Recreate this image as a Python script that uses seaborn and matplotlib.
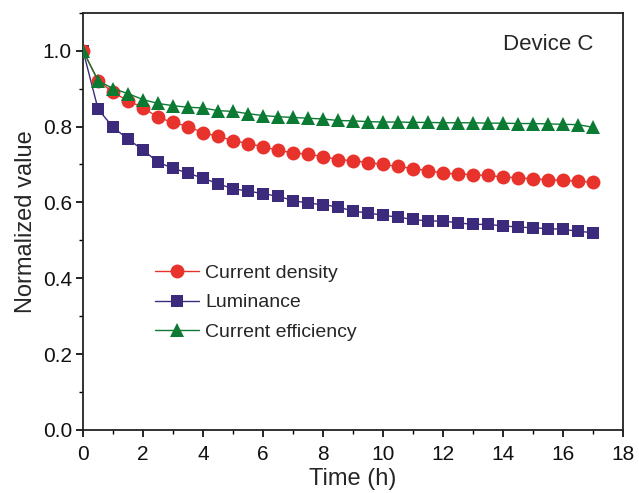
import matplotlib
matplotlib.use("Agg")
import matplotlib.pyplot as plt
import seaborn as sns
import numpy as np
import pandas as pd
from matplotlib.ticker import MultipleLocator

time_h = [0, 0.5, 1, 1.5, 2, 2.5, 3, 3.5, 4, 4.5, 5, 5.5, 6, 6.5, 7, 7.5, 8, 8.5,
          9, 9.5, 10, 10.5, 11, 11.5, 12, 12.5, 13, 13.5, 14, 14.5, 15, 15.5, 16, 16.5, 17]
current_density = [1.0, 0.921, 0.89, 0.868, 0.85, 0.824, 0.811, 0.8, 0.784, 0.774, 0.763, 0.755,
                   0.747, 0.737, 0.731, 0.727, 0.721, 0.713, 0.71, 0.705, 0.7, 0.695, 0.689, 0.684,
                   0.677, 0.675, 0.673, 0.671, 0.667, 0.665, 0.662, 0.66, 0.658, 0.656, 0.653]
luminance = [1.0, 0.846, 0.798, 0.767, 0.738, 0.706, 0.69, 0.677, 0.664, 0.649, 0.636, 0.63,
             0.623, 0.616, 0.605, 0.598, 0.594, 0.588, 0.577, 0.572, 0.566, 0.561, 0.555, 0.551,
             0.551, 0.546, 0.542, 0.542, 0.538, 0.535, 0.533, 0.531, 0.529, 0.524, 0.52]
current_efficiency = [1.0, 0.921, 0.9, 0.887, 0.871, 0.861, 0.855, 0.851, 0.849, 0.842, 0.84, 0.834,
                      0.829, 0.826, 0.824, 0.822, 0.82, 0.816, 0.815, 0.813, 0.812, 0.812, 0.811, 0.811,
                      0.81, 0.81, 0.81, 0.809, 0.809, 0.808, 0.808, 0.807, 0.806, 0.805, 0.798]
series_names = ["Current density", "Luminance", "Current efficiency"]

sns.set_theme(style="ticks")
plt.rcParams['font.family'] = ['Liberation Sans', 'DejaVu Sans']

fig = plt.figure(figsize=(6.39, 4.93), dpi=100)
ax = fig.add_axes([0.13, 0.128, 0.845, 0.846])

styles = [
    (current_density, "#e8322c", "o", 10, 2),
    (luminance, "#3c2a7c", "s", 9, 1),
    (current_efficiency, "#0b7a32", "^", 10.5, 3),
]
for name, (vals, col, mk, ms, z) in zip(series_names, styles):
    df = pd.DataFrame({"Time (h)": time_h, "value": vals})
    sns.lineplot(data=df, x="Time (h)", y="value", ax=ax, color=col, marker=mk,
                 markersize=ms, markeredgewidth=0, linewidth=1.0, label=name, zorder=z)

ax.set_xlim(0, 18)
ax.set_ylim(0, 1.1)
ax.xaxis.set_major_locator(MultipleLocator(2))
ax.xaxis.set_minor_locator(MultipleLocator(1))
ax.yaxis.set_major_locator(MultipleLocator(0.2))
ax.yaxis.set_minor_locator(MultipleLocator(0.1))
ax.yaxis.set_major_formatter(matplotlib.ticker.FormatStrFormatter('%.1f'))
ax.tick_params(which='major', direction='out', length=5, width=1.2, labelsize=15, color='black',
               labelcolor='#111111')
ax.tick_params(axis='x', which='major', pad=6)
ax.tick_params(axis='y', which='major', pad=3)
ax.tick_params(which='minor', direction='out', length=3, width=1.0, color='black')
for s in ax.spines.values():
    s.set_linewidth(1.3)
    s.set_color('#222222')
ax.set_xlabel("Time (h)", fontsize=17, labelpad=3)
ax.set_ylabel("Normalized value", fontsize=17, labelpad=4)
ax.text(0.945, 0.923, "Device C", transform=ax.transAxes, ha='right', va='center', fontsize=16)

leg = ax.legend(loc='upper left', bbox_to_anchor=(0.118, 0.415), frameon=False, fontsize=14,
                handlelength=2.3, labelspacing=0.6, handletextpad=0.3, borderaxespad=0)
fig.savefig("out.png", dpi=100)
